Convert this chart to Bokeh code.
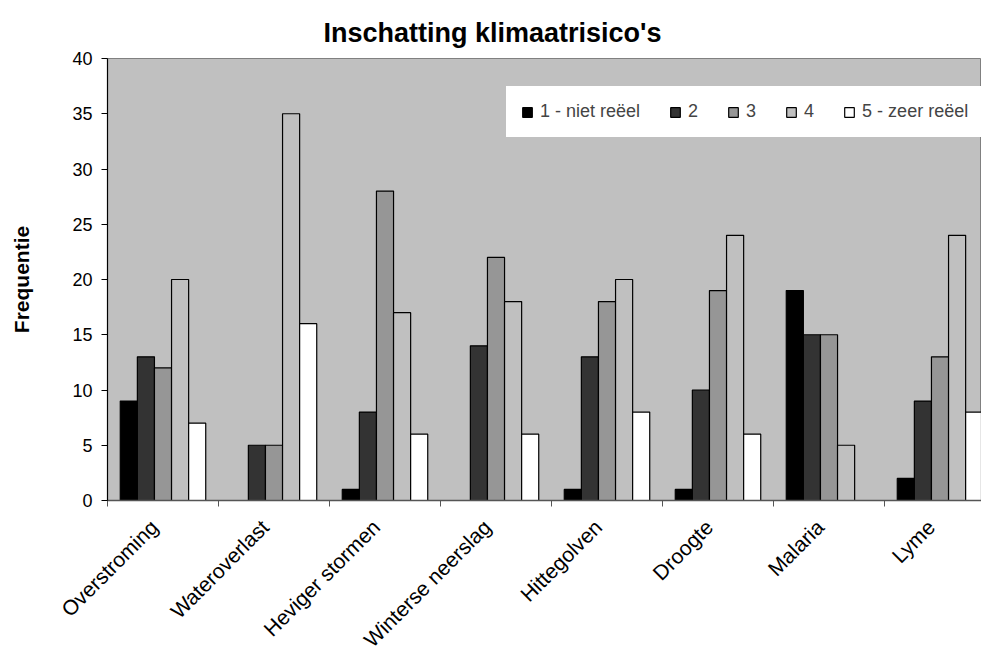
from math import pi
from bokeh.plotting import figure
from bokeh.models import ColumnDataSource, Range1d, FixedTicker, Legend, LegendItem
from bokeh.transform import dodge
from bokeh.embed import file_html
from bokeh.resources import INLINE

categories = ["Overstroming", "Wateroverlast", "Heviger stormen", "Winterse neerslag",
              "Hittegolven", "Droogte", "Malaria", "Lyme"]
s1 = [9, 0, 1, 0, 1, 1, 19, 2]
s2 = [13, 5, 8, 14, 13, 10, 15, 9]
s3 = [12, 5, 28, 22, 18, 19, 15, 13]
s4 = [20, 35, 17, 18, 20, 24, 5, 24]
s5 = [7, 16, 6, 6, 8, 6, 0, 8]
series_labels = ["1 - niet reëel", "2", "3", "4", "5 - zeer reëel"]
y_ticks = [0, 5, 10, 15, 20, 25, 30, 35, 40]

colors = ["#000000", "#333333", "#969696", "#C0C0C0", "#FFFFFF"]
FONT = "Liberation Sans"

xc = [i + 0.5 for i in range(len(categories))]
source = ColumnDataSource(dict(x=xc, s1=s1, s2=s2, s3=s3, s4=s4, s5=s5))

cat_px = 111.0
W, H = 981, 663
LEFT, TOP, BOTTOM = 107, 58, 163
frame_w = W - LEFT
p = figure(width=W, height=H, output_backend="svg", toolbar_location=None,
           x_range=Range1d(0, frame_w / cat_px), y_range=Range1d(0, 40),
           min_border_left=LEFT, min_border_right=0, min_border_top=TOP, min_border_bottom=BOTTOM,
           background_fill_color="#C0C0C0", border_fill_color="white",
           outline_line_color="#808080", outline_line_width=1)

p.title.text = "Inschatting klimaatrisico's"
p.title.text_font = FONT
p.title.text_font_size = "27px"
p.title.text_font_style = "bold"
p.title.text_color = "black"
p.title.text_line_height = 0.7
p.title.align = "left"
p.title.offset = 216
p.title.standoff = 21

p.xgrid.visible = False
p.ygrid.visible = False

bw = 0.154
renderers = []
for k, col in enumerate(["s1", "s2", "s3", "s4", "s5"]):
    r = p.vbar(x=dodge("x", (k - 2) * bw, range=p.x_range), top=col, width=bw, bottom=0,
               source=source, fill_color=colors[k], line_color="black", line_width=1.2)
    renderers.append(r)

# x axis: labels slightly left of the category centre, ticks at category boundaries
label_shift = 0.08
label_pos = [x - label_shift for x in xc]
xa = p.xaxis[0]
xa.ticker = FixedTicker(ticks=label_pos, minor_ticks=list(range(len(categories) + 1)))
xa.major_label_overrides = {x: c for x, c in zip(label_pos, categories)}
xa.major_label_orientation = pi / 4
xa.major_tick_line_color = None
xa.major_tick_in = 0
xa.major_tick_out = 0
xa.minor_tick_in = 0
xa.minor_tick_out = 6
xa.minor_tick_line_color = "#555555"
xa.axis_line_color = "#555555"
xa.axis_line_width = 1.5
xa.major_label_text_font = FONT
xa.major_label_text_font_size = "21px"
xa.major_label_text_color = "black"
xa.major_label_standoff = 17

# y axis
ya = p.yaxis[0]
ya.ticker = FixedTicker(ticks=y_ticks)
ya.major_tick_in = 0
ya.major_tick_out = 6
ya.major_tick_line_color = "black"
ya.minor_tick_line_color = None
ya.axis_line_color = "black"
ya.axis_line_width = 1.2
ya.major_label_text_font = FONT
ya.major_label_text_font_size = "18px"
ya.major_label_text_color = "black"
ya.major_label_standoff = 9
ya.axis_label = "Frequentie"
ya.axis_label_text_font = FONT
ya.axis_label_text_font_size = "21px"
ya.axis_label_text_font_style = "bold"
ya.axis_label_text_color = "black"
ya.axis_label_standoff = 36

legend = Legend(items=[LegendItem(label=lab, renderers=[r]) for lab, r in zip(series_labels, renderers)],
                orientation="horizontal", location=(399, 363),
                background_fill_color="white", background_fill_alpha=1.0,
                border_line_color="white", border_line_width=1,
                padding=14, spacing=29, label_standoff=7, label_width=0,
                glyph_width=12, glyph_height=12, margin=0,
                label_text_font=FONT, label_text_font_size="18px")
p.add_layout(legend)

open("out.html", "w").write(file_html(p, INLINE))
